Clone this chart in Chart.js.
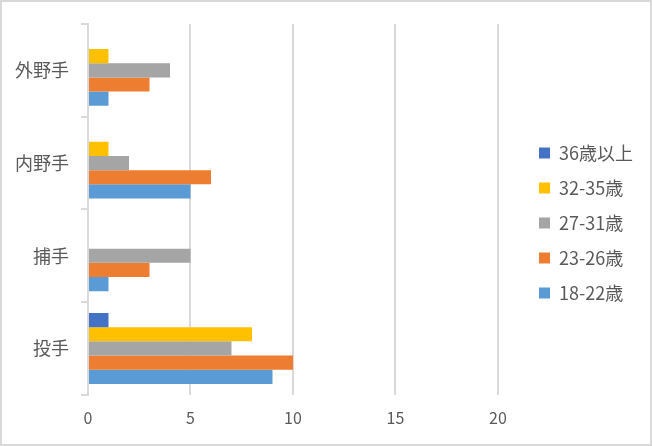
<!DOCTYPE html>
<html>
<head>
<meta charset="utf-8">
<script src="https://cdn.jsdelivr.net/npm/chart.js@4.4.1/dist/chart.umd.min.js"></script>
<style>
  html, body { margin: 0; padding: 0; background: #ffffff; }
  #wrap { position: relative; width: 652px; height: 446px; }
  #frame { position: absolute; left: 0; top: 0; width: 652px; height: 446px; box-sizing: border-box; border: 2px solid #d9d9d9; pointer-events: none; }
</style>
</head>
<body>
<div id="wrap">
  <canvas id="grafico" width="652" height="446"></canvas>
  <div id="frame"></div>
</div>
<script>
// categorias (de cima pra baixo, como o Chart.js desenha no eixo y)
const posicoes = ["外野手", "内野手", "捕手", "投手"];

// valores por faixa etária
const idade36mais = [0, 0, 0, 1];
const idade32a35 = [1, 1, 0, 8];
const idade27a31 = [4, 2, 5, 7];
const idade23a26 = [3, 6, 3, 10];
const idade18a22 = [1, 5, 1, 9];

const ticksX = [0, 5, 10, 15, 20];

const corTexto = "#595959";
const corGrade = "#d9d9d9";
const fonte = "'Noto Sans CJK JP', 'Noto Sans', sans-serif";

// largura fixa da legenda e deslocamento pra direita (igual ao Excel)
const legendaFixa = {
  id: "legendaFixa",
  beforeLayout(chart) {
    const lg = chart.legend;
    if (lg && !lg._fixado) {
      const fitOriginal = lg.fit.bind(lg);
      lg.fit = function () {
        fitOriginal();
        if (this.isHorizontal()) return;
        this.width = 154;
      };
      lg._fixado = true;
    }
  },
  afterLayout(chart) {
    const lg = chart.legend;
    if (!lg) return;
    lg.left = 522;
    lg.right = lg.left + lg.width;
    lg.top = 127;
    lg.bottom = lg.top + 220;
  },
};

const ctx = document.getElementById("grafico").getContext("2d");

new Chart(ctx, {
  type: "bar",
  data: {
    labels: posicoes,
    datasets: [
      { label: "36歳以上", data: idade36mais, backgroundColor: "#4472C4" },
      { label: "32-35歳", data: idade32a35, backgroundColor: "#FFC000" },
      { label: "27-31歳", data: idade27a31, backgroundColor: "#A5A5A5" },
      { label: "23-26歳", data: idade23a26, backgroundColor: "#ED7D31" },
      { label: "18-22歳", data: idade18a22, backgroundColor: "#5B9BD5" },
    ],
  },
  options: {
    indexAxis: "y",
    responsive: false,
    animation: false,
    devicePixelRatio: 1,
    categoryPercentage: 0.765,
    barPercentage: 1,
    layout: {
      padding: { top: 24, left: 3, right: 0, bottom: 4 },
    },
    scales: {
      x: {
        min: 0,
        max: 20,
        afterBuildTicks(scale) {
          scale.ticks = ticksX.map((v) => ({ value: v }));
        },
        grid: { color: corGrade, lineWidth: 2, drawTicks: false },
        border: { display: false },
        ticks: {
          color: corTexto,
          padding: 14,
          font: { family: fonte, size: 16 },
        },
      },
      y: {
        grid: {
          drawOnChartArea: false,
          drawTicks: true,
          tickLength: 7,
          color: corGrade,
          lineWidth: 2,
        },
        border: { display: true, color: corGrade, width: 2 },
        ticks: {
          color: corTexto,
          padding: 12,
          font: { family: fonte, size: 18 },
        },
      },
    },
    plugins: {
      legend: {
        position: "right",
        align: "start",
        labels: {
          boxWidth: 11,
          boxHeight: 11,
          padding: 17,
          color: corTexto,
          font: { family: fonte, size: 18 },
        },
      },
      tooltip: { enabled: false },
    },
  },
  plugins: [legendaFixa],
});
</script>
</body>
</html>
